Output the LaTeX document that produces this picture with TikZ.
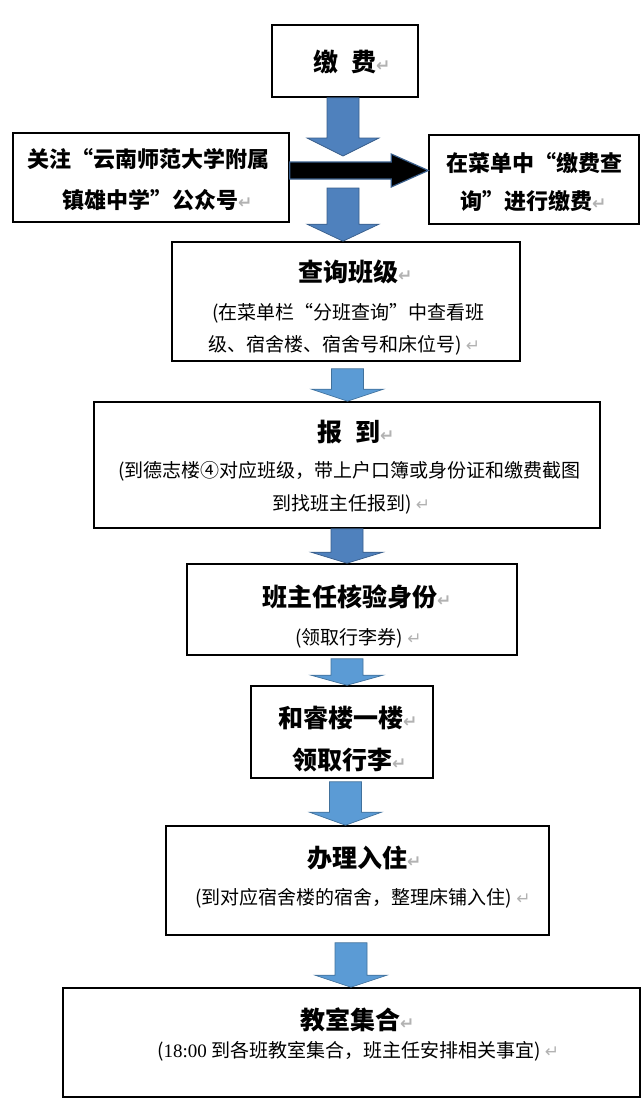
\documentclass[tikz,border=0pt]{standalone}
\usepackage{fontspec}
\setmainfont{Noto Sans CJK SC}
\newfontfamily\timesfont{Liberation Serif}
\newfontfamily\symfont{DejaVu Sans}
\usetikzlibrary{calc}
\definecolor{flowdark}{HTML}{4F81BD}
\definecolor{flowdarkline}{HTML}{385D8A}
\definecolor{flowlight}{HTML}{5B9BD5}
\definecolor{flowlightline}{HTML}{41719C}
\newcommand{\ret}{{\symfont\fontsize{17}{17}\selectfont\color{gray!60}↵}}
\newcommand{\oq}{{\addfontfeature{RawFeature=+fwid}“}}
\newcommand{\cq}{{\addfontfeature{RawFeature=+fwid}”}}
\tikzset{
  box/.style={draw=black, line width=1.6pt, rectangle, inner sep=0pt},
  head/.style={anchor=base west, inner sep=0pt, font=\bfseries\fontsize{25}{25}\selectfont},
  bighead/.style={anchor=base west, inner sep=0pt, font=\bfseries\fontsize{22}{22}\selectfont},
  sub/.style={anchor=base west, inner sep=0pt, font=\fontsize{19}{19}\selectfont},
  lightflow/.style={fill=flowlight, draw=flowlightline, line width=0.7pt},
  darkflow/.style={fill=flowdark, draw=flowdarkline, line width=0.7pt},
  blackflow/.style={fill=black, draw=flowdarkline, line width=1.2pt}
}
% block arrow: [style] x, from, to, head length
\newcommand{\flow}[5][lightflow]{%
  \path[#1] let \p1=(#3), \p2=(#4) in
    (#2pt-16pt,\y1) -- (#2pt-16pt,\y2+#5pt) -- (#2pt-36pt,\y2+#5pt) -- (#2pt,\y2)
    -- (#2pt+36pt,\y2+#5pt) -- (#2pt+16pt,\y2+#5pt) -- (#2pt+16pt,\y1) -- cycle;}
\begin{document}
\begin{tikzpicture}[x=1pt, y=-1pt]
\useasboundingbox (0,0) rectangle (644,1116);
\node[box, minimum width=146pt, minimum height=72pt](1) at (345, 61) {};
\node[box, minimum width=276pt, minimum height=89pt](2) at (151, 177.5) {};
\node[box, minimum width=210pt, minimum height=89pt](3) at (534, 179.5) {};
\node[box, minimum width=348pt, minimum height=119pt](4) at (346, 301.5) {};
\node[box, minimum width=506pt, minimum height=126pt](5) at (347, 465) {};
\node[box, minimum width=330pt, minimum height=91pt](6) at (352, 609.5) {};
\node[box, minimum width=182pt, minimum height=92pt](7) at (342, 732) {};
\node[box, minimum width=383pt, minimum height=109pt](8) at (357.5, 880.5) {};
\node[box, minimum width=577pt, minimum height=109pt](9) at (351.5, 1042.5) {};
% texts
\node[head](1a) at (313, 71.5) {缴\hspace{13pt}费\ret};
\node[bighead](2a) at (27, 167.4) {关注\oq 云南师范大学附属};
\node[bighead](2b) at (62, 208.4) {镇雄中学\cq 公众号\ret};
\node[bighead](3a) at (446, 171.4) {在菜单中\oq 缴费查};
\node[bighead](3b) at (460, 209.4) {询\cq 进行缴费\ret};
\node[head](4a) at (298, 281.5) {查询班级\ret};
\node[sub](4b) at (212, 319.2) {(在菜单栏\oq 分班查询\cq 中查看班};
\node[sub](4c) at (208, 351.2) {级、宿舍楼、宿舍号和床位号) \ret};
\node[head](5a) at (317, 441.5) {报\hspace{13pt}到\ret};
\node[sub](5b) at (118, 477.2) {(到德志楼④对应班级，带上户口簿或身份证和缴费截图};
\node[sub](5c) at (272, 510.2) {到找班主任报到) \ret};
\node[head](6a) at (262, 606.5) {班主任核验身份\ret};
\node[sub](6b) at (295, 644.2) {(领取行李券) \ret};
\node[head](7a) at (278, 727.5) {和睿楼一楼\ret};
\node[head](7b) at (292, 769.5) {领取行李\ret};
\node[head](8a) at (307, 867.5) {办理入住\ret};
\node[sub](8b) at (195, 904.2) {(到对应宿舍楼的宿舍，整理床铺入住) \ret};
\node[head](9a) at (300, 1029.5) {教室集合\ret};
\node[sub](9b) at (157, 1057.2) {({\timesfont 18:00} 到各班教室集合，班主任安排相关事宜) \ret};
% arrows
\coordinate (a1) at (343, 156);
\coordinate (a2) at (343, 188);
\flow[darkflow]{343}{1.south}{a1}{18}
\flow[darkflow]{343}{a2}{4.north}{17}
\path[blackflow] let \p1=($(2.east)+(0,-7)$), \p2=($(3.west)+(0,-9)$) in
  (\x1,\y1+8.5pt) -- (\x2-37pt,\y1+8.5pt) -- (\x2-37pt,\y1+16.5pt) -- (\x2,\y1)
  -- (\x2-37pt,\y1-16.5pt) -- (\x2-37pt,\y1-8.5pt) -- (\x1,\y1-8.5pt) -- cycle;
\flow{347.5}{$(4.south)+(0,7)$}{5.north}{12}
\flow[darkflow]{347}{5.south}{6.north}{11}
\flow{347}{$(6.south)+(0,3)$}{7.north}{10}
\flow{345.5}{$(7.south)+(0,3)$}{8.north}{13}
\flow{351}{$(8.south)+(0,7)$}{9.north}{12}
\end{tikzpicture}
\end{document}
